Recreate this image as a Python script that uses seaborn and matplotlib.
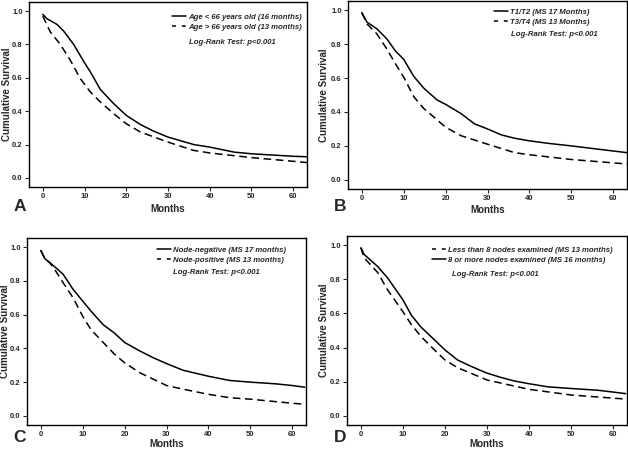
import numpy as np
import pandas as pd
import matplotlib
matplotlib.use("Agg")
import matplotlib.pyplot as plt
from matplotlib.lines import Line2D
import seaborn as sns

sns.set_style("white")
plt.rcParams['font.family'] = ['Liberation Sans', 'DejaVu Sans']

# ---- data ----
# panel A
a_m_young = [0, 1, 3.4, 5, 7.4, 10, 11.4, 13.8, 17, 20, 23.4, 26.6, 30, 36.2, 40, 45.8, 50, 60, 63.5]
a_s_young = [0.98, 0.954, 0.92, 0.88, 0.80, 0.69, 0.635, 0.53, 0.445, 0.375, 0.32, 0.28, 0.245, 0.20, 0.185, 0.155, 0.145, 0.13, 0.127]
a_m_old = [0, 1.8, 4.2, 6.6, 9, 11.4, 13.8, 17, 20, 23.4, 30, 36, 40, 50, 60, 63.5]
a_s_old = [0.97, 0.875, 0.80, 0.705, 0.595, 0.515, 0.455, 0.385, 0.325, 0.275, 0.215, 0.166, 0.15, 0.122, 0.10, 0.092]

# panel B
b_m_t12 = [0, 0.8, 1.2, 3.6, 6, 8, 10, 12.4, 14.8, 18, 20, 23.7, 26.9, 30, 33.3, 36.5, 40, 44.5, 50, 55, 60, 63.4]
b_s_t12 = [0.985, 0.95, 0.93, 0.89, 0.83, 0.76, 0.71, 0.61, 0.54, 0.47, 0.445, 0.39, 0.33, 0.30, 0.265, 0.245, 0.23, 0.215, 0.20, 0.185, 0.17, 0.16]
b_m_t34 = [0, 1.2, 3.6, 6, 8, 10, 12.4, 14.8, 17.2, 20, 23.7, 30, 36.5, 40, 50, 60, 63.4]
b_s_t34 = [0.985, 0.92, 0.86, 0.77, 0.685, 0.605, 0.49, 0.42, 0.37, 0.31, 0.26, 0.21, 0.16, 0.148, 0.12, 0.10, 0.093]

# panel C
c_m_neg = [0, 1, 2.1, 5.3, 7.7, 10, 12, 14.9, 17.6, 20, 23.6, 26.8, 30, 34, 40, 45, 50, 56, 60, 63]
c_s_neg = [0.98, 0.93, 0.91, 0.84, 0.75, 0.68, 0.62, 0.54, 0.49, 0.435, 0.385, 0.345, 0.31, 0.27, 0.235, 0.21, 0.20, 0.19, 0.18, 0.17]
c_m_pos = [0, 1, 2, 3, 5.3, 7.7, 10, 12, 14.9, 17.6, 20, 23.6, 30, 34, 40, 45, 50, 60, 63]
c_s_pos = [0.98, 0.93, 0.91, 0.88, 0.79, 0.70, 0.59, 0.51, 0.435, 0.365, 0.315, 0.256, 0.18, 0.158, 0.128, 0.108, 0.099, 0.075, 0.069]

# panel D
d_m_less = [0, 0.8, 4, 6.3, 10, 12, 14.3, 17.5, 20, 23, 30, 40, 50, 63]
d_s_less = [0.985, 0.925, 0.84, 0.74, 0.61, 0.535, 0.465, 0.386, 0.327, 0.282, 0.21, 0.155, 0.122, 0.098]
d_m_more = [0, 0.8, 4, 6.3, 10, 12, 14.3, 17.5, 20, 23, 26.2, 30, 33.3, 36.5, 40, 44.4, 50, 56.3, 63]
d_s_more = [0.985, 0.945, 0.875, 0.81, 0.68, 0.59, 0.52, 0.445, 0.386, 0.327, 0.29, 0.25, 0.225, 0.204, 0.188, 0.17, 0.16, 0.15, 0.13]

yticks = [0.0, 0.2, 0.4, 0.6, 0.8, 1.0]
xticks = [0, 10, 20, 30, 40, 50, 60]
logrank = "Log-Rank Test: p<0.001"

W, H = 628, 450
# letter, axes box in px (left, top, right, bottom), series,
# legend (handle x, first row y, logrank x, logrank y), letter pos, xlabel offset, ylabel x
panels = [
    ("A", (29, 2, 307, 187), [
        (a_m_young, a_s_young, "Age < 66 years old (16 months)", "-"),
        (a_m_old, a_s_old, "Age > 66 years old (13 months)", "--")],
     (172, 18, 189, 42), (20, 207), 22, 7),
    ("B", (348, 1, 627, 189), [
        (b_m_t12, b_s_t12, "T1/T2 (MS 17 Months)", "-"),
        (b_m_t34, b_s_t34, "T3/T4 (MS 13 Months)", "--")],
     (494, 13, 511, 35), (340, 207), 21, 324),
    ("C", (27, 238, 306, 425), [
        (c_m_neg, c_s_neg, "Node-negative (MS 17 months)", "-"),
        (c_m_pos, c_s_pos, "Node-positive (MS 13 months)", "--")],
     (157, 251, 173, 273), (19, 437), 19, 5),
    ("D", (347, 236, 627, 425), [
        (d_m_less, d_s_less, "Less than 8 nodes examined (MS 13 months)", "--"),
        (d_m_more, d_s_more, "8 or more nodes examined (MS 16 months)", "-")],
     (432, 251, 452, 275), (340, 437), 19, 324),
]

fig = plt.figure(figsize=(6.28, 4.5), dpi=100)
dash = (0, (5, 3))
leg_dash = (0, (2.6, 3.8))

for letter, (l, t, r, b), series, (hx, hy, lx, ly), (tx, ty), xoff, ylx in panels:
    w, h = r - l, b - t
    ax = fig.add_axes([l / W, (H - b) / H, w / W, h / H])
    handles = []
    for months, surv, label, ls in series:
        df = pd.DataFrame({"Months": months, "Survival": surv})
        sns.lineplot(data=df, x="Months", y="Survival", ax=ax, color="black",
                     linewidth=1.1, linestyle=dash if ls == "--" else "-")
        handles.append(Line2D([], [], color="black", linewidth=1.1,
                              linestyle=leg_dash if ls == "--" else "-"))
    ax.set_xlim(-3.3, 63.3)
    ax.set_ylim(-0.054, 1.054)
    ax.set_xticks(xticks)
    ax.set_yticks(yticks)
    ax.set_yticklabels([f"{v:.1f}" for v in yticks])
    ax.tick_params(direction="out", length=3, width=0.8, labelsize=5.5,
                   pad=1.5, bottom=True, left=True)
    for lab in ax.get_xticklabels() + ax.get_yticklabels():
        lab.set_fontweight("bold")
    for sp in ax.spines.values():
        sp.set_linewidth(1.0)
        sp.set_color("black")
    ax.set_xlabel("Months", fontsize=7, fontweight="bold", va="center")
    ax.xaxis.set_label_coords(0.5, -xoff / h)
    ax.set_ylabel("Cumulative Survival", fontsize=7, fontweight="bold", va="center")
    ax.yaxis.set_label_coords((ylx - l) / w, 0.5)

    ax.legend(handles=handles, labels=[s[2] for s in series],
              loc="upper left", bbox_to_anchor=(hx / W, 1 - (hy - 4.5) / H),
              bbox_transform=fig.transFigure,
              frameon=False, handlelength=1.8, handletextpad=0.3,
              labelspacing=0.35, borderaxespad=0, borderpad=0,
              prop={"size": 5.6, "weight": "bold", "style": "italic"})
    fig.text(lx / W, 1 - ly / H, logrank, fontsize=5.6, fontweight="bold",
             fontstyle="italic", va="center", ha="left")
    fig.text(tx / W, 1 - ty / H, letter, fontsize=12.5,
             fontweight="bold", ha="center", va="center")

fig.savefig("out.png", dpi=100)
